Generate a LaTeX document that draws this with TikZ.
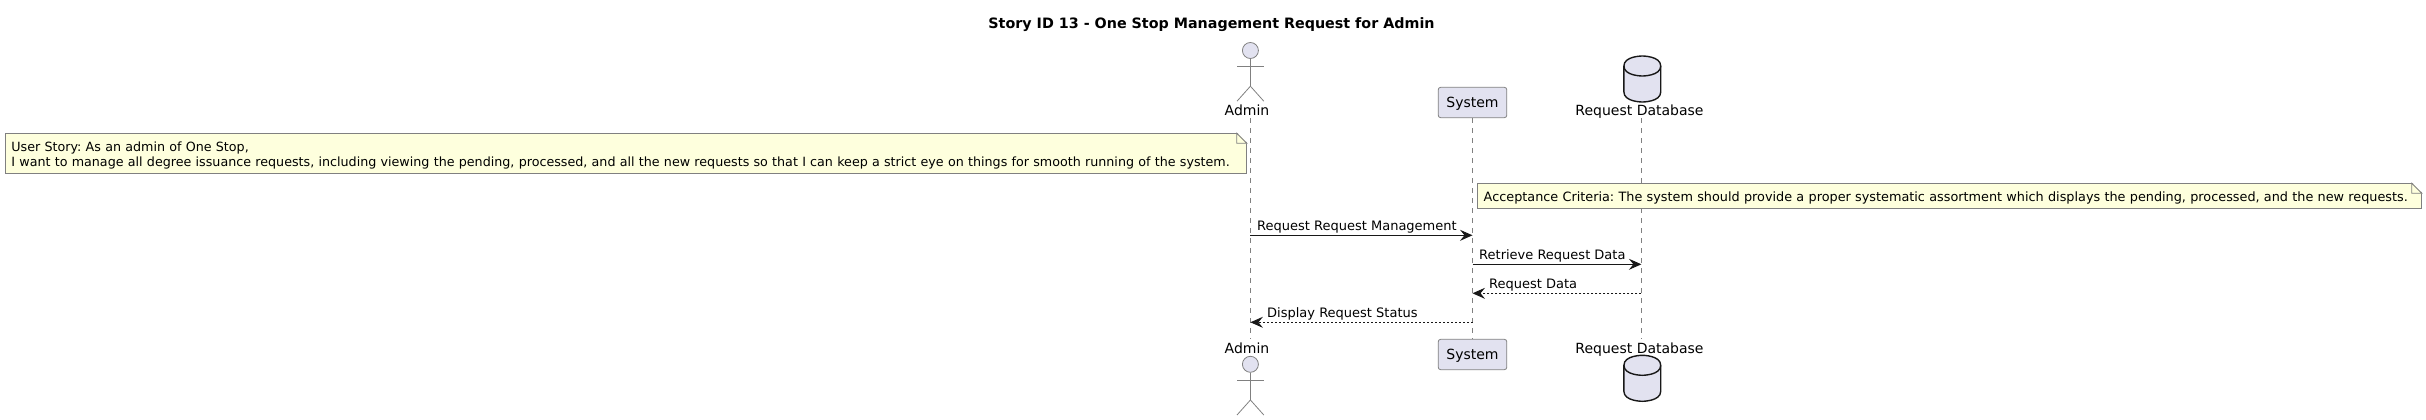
\documentclass[tikz,border=0pt]{standalone}
\usepackage{fontspec}
\setmainfont{DejaVu Sans}
\usetikzlibrary{arrows.meta, calc}
\definecolor{partfill}{HTML}{E2E2F0}
\definecolor{notefill}{HTML}{FEFFDD}
\definecolor{inkdark}{HTML}{181818}
\definecolor{thinline}{HTML}{808080}
\begin{document}
\begin{tikzpicture}[x=1pt, y=-1pt, node distance=29pt]
	\tikzstyle{heading} = [font=\fontsize{14.3}{16}\selectfont\bfseries, anchor=base, text=black, inner sep=0pt]
	\tikzstyle{partname} = [font=\fontsize{14}{16}\selectfont, anchor=base, text=black, inner sep=0pt]
	\tikzstyle{msgtext} = [font=\fontsize{13}{15}\selectfont, anchor=base west, text=black, inner sep=0pt]
	\tikzstyle{partbox} = [rectangle, rounded corners=2.5pt, minimum width=68.6pt, minimum height=30.4pt, inner sep=0pt, text depth=0pt, font=\fontsize{14}{16}\selectfont, draw=thinline, line width=0.8pt, fill=partfill]
	\tikzstyle{head} = [circle, minimum size=16pt, inner sep=0pt, draw=thinline, line width=0.8pt, fill=partfill]
	\tikzstyle{limbs} = [draw=thinline, line width=0.8pt]
	\tikzstyle{dbspot} = [inner sep=0pt, minimum size=0pt]
	\tikzstyle{dbline} = [draw=inkdark, line width=1.4pt, fill=partfill]
	\tikzstyle{lifeline} = [draw=thinline, line width=0.7pt, dash pattern=on 5pt off 5pt]
	\tikzstyle{note} = [rectangle, anchor=north west, align=left, inner xsep=6pt, inner ysep=0pt, draw=thinline, line width=0.8pt, fill=notefill]
	\tikzstyle{arrow} = [draw=inkdark, line width=1pt, -{Stealth[length=12.5pt, width=11pt, inset=4.5pt]}]
	\tikzstyle{reply} = [arrow, dash pattern=on 2pt off 2pt]
	\useasboundingbox (0,0) rectangle (2426,420);
	\node (title) [heading] at (1211.5,28.3) {Story ID 13 - One Stop Management Request for Admin};
	\coordinate (adminTop) at (1250.4,118);
	\coordinate (adminEnd) at (1250.4,339);
	\node (systemTop) [partbox] at (1472.5,102.5) {System};
	\node (systemBottom) [partbox] at (1472.5,354.5) {System};
	\coordinate (dbTop) at (1641.4,118);
	\coordinate (dbEnd) at (1641.4,339);
	\draw [lifeline] (adminTop) -- (adminEnd);
	\draw [lifeline] (systemTop) -- (systemBottom);
	\draw [lifeline] (dbTop) -- (dbEnd);
	\node (adminName) [partname] at (1247,115) {Admin};
	\node (adminNameLow) [partname] at (1247,353.3) {Admin};
	\node (dbName) [partname] at (1639.5,115) {Request Database};
	\node (dbNameLow) [partname] at (1639.5,353.3) {Request Database};
	\node (adminHead) [head] at (1250.4,50.5) {};
	\node (adminHeadLow) [head] at (1250.4,364.3) {};
	\foreach \headname in {adminHead, adminHeadLow} {
		\draw [limbs] (\headname.south) -- ++(0,27.3) coordinate (hip) -- ++(-13.4,15);
		\draw [limbs] (hip) -- ++(13.4,15);
		\draw [limbs] ($(\headname.south)+(-13.4,7.8)$) -- ++(26.8,0);
	}
	\node (dbIcon) [dbspot] at (1642.3,56) {};
	\node (dbIconLow) [dbspot] at (1642.3,355.3) {};
	\foreach \dbname in {dbIcon, dbIconLow} {
		\draw [dbline] ($(\dbname)+(-18.4,10)$) .. controls ($(\dbname)+(-18.4,0)$) and ($(\dbname)+(0,0)$) .. ($(\dbname)+(0,0)$) .. controls ($(\dbname)+(0,0)$) and ($(\dbname)+(18.4,0)$) .. ($(\dbname)+(18.4,10)$) -- ($(\dbname)+(18.4,36)$) .. controls ($(\dbname)+(18.4,46)$) and ($(\dbname)+(0,46)$) .. ($(\dbname)+(0,46)$) .. controls ($(\dbname)+(0,46)$) and ($(\dbname)+(-18.4,46)$) .. ($(\dbname)+(-18.4,36)$) -- cycle;
		\draw [dbline, fill=none] ($(\dbname)+(-18.4,10)$) .. controls ($(\dbname)+(-18.4,20)$) and ($(\dbname)+(0,20)$) .. ($(\dbname)+(0,20)$) .. controls ($(\dbname)+(0,20)$) and ($(\dbname)+(18.4,20)$) .. ($(\dbname)+(18.4,10)$);
	}
	\node (storyNote) [note, font=\fontsize{12.7}{15}\selectfont\frenchspacing, text width=1229pt, text depth=14.5pt, minimum height=40pt] at (5,133.3) {User Story: As an admin of One Stop,\\I want to manage all degree issuance requests, including viewing the pending, processed, and all the new requests so that I can keep a strict eye on things for smooth running of the system.};
	\node (criteriaNote) [note, font=\fontsize{12.82}{15}\selectfont\frenchspacing, text width=931.7pt, text depth=0pt, minimum height=25pt] at (1477.3,183.3) {Acceptance Criteria: The system should provide a proper systematic assortment which displays the pending, processed, and the new requests.};
	\foreach \notename in {storyNote, criteriaNote} {
		\fill [white] ($(\notename.north east)+(-10,-1)$) -- ($(\notename.north east)+(1,-1)$) -- ($(\notename.north east)+(1,10)$) -- cycle;
		\draw [draw=thinline, line width=0.8pt, fill=notefill] ($(\notename.north east)+(-10,0)$) -- ($(\notename.north east)+(0,10)$) -- ($(\notename.north east)+(-10,10)$) -- cycle;
	}
	\coordinate (adminOne) at (1250.4,235.3);
	\coordinate (systemOne) at (1472.5,235.3);
	\coordinate [below of=systemOne] (systemTwo);
	\coordinate [below of=systemTwo] (systemThree);
	\coordinate [below of=systemThree] (systemFour);
	\coordinate (dbTwo) at (1641.4,264.3);
	\coordinate [below of=dbTwo] (dbThree);
	\coordinate (adminFour) at (1250.4,322.3);
	\node (requestMsg) [msgtext] at (1257,230) {Request Request Management};
	\node (retrieveMsg) [msgtext] at (1479,259) {Retrieve Request Data};
	\node (dataMsg) [msgtext] at (1489,288) {Request Data};
	\node (statusMsg) [msgtext] at (1267,317) {Display Request Status};
	\draw [arrow] (adminOne) -- (systemOne);
	\draw [arrow] (systemTwo) -- (dbTwo);
	\draw [reply] (dbThree) -- (systemThree);
	\draw [reply] (systemFour) -- (adminFour);
\end{tikzpicture}
\end{document}
